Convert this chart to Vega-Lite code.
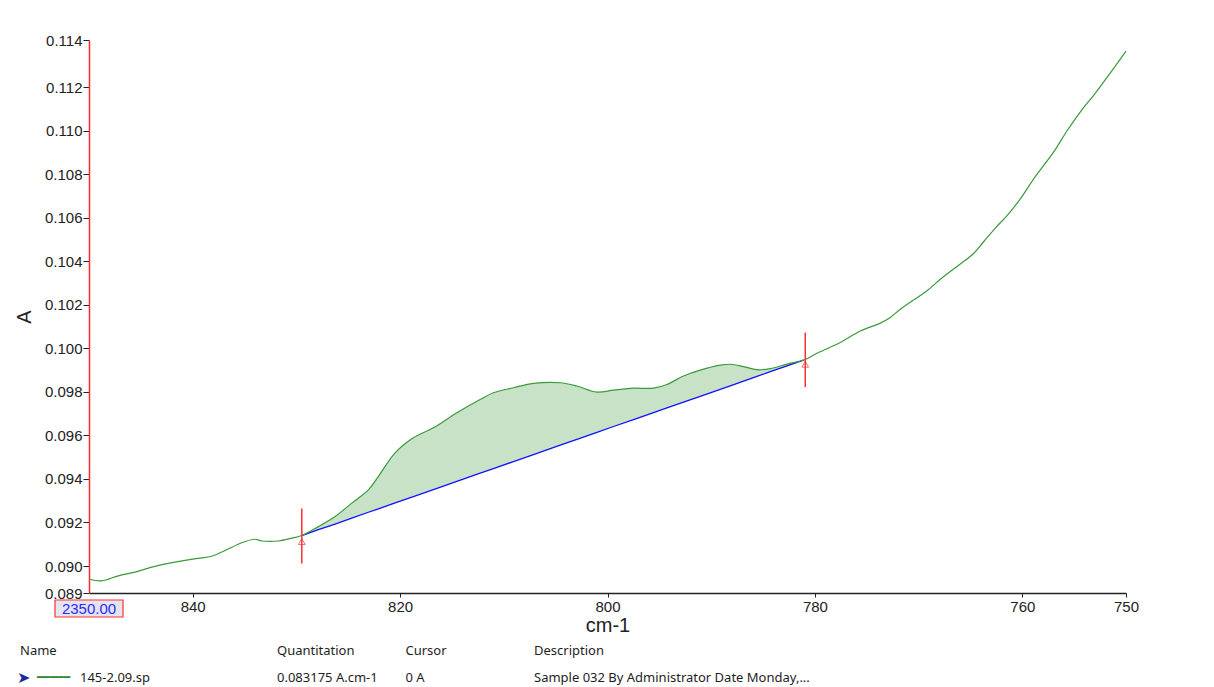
{
  "$schema": "https://vega.github.io/schema/vega-lite/v6.json",
  "width": 1037,
  "height": 553,
  "autosize": {"type": "none"},
  "padding": {"left": 89, "top": 40, "right": 88, "bottom": 94},
  "background": "white",
  "config": {"view": {"stroke": null}, "font": "Liberation Sans"},
  "datasets": {
    "spectrum": [
      {"cm": 850.0, "A": 0.08939},
      {"cm": 848.77, "A": 0.08932},
      {"cm": 847.17, "A": 0.08955},
      {"cm": 845.56, "A": 0.08972},
      {"cm": 843.95, "A": 0.08995},
      {"cm": 842.35, "A": 0.09012},
      {"cm": 840.74, "A": 0.09026},
      {"cm": 839.46, "A": 0.09035},
      {"cm": 838.16, "A": 0.09045},
      {"cm": 836.88, "A": 0.09071},
      {"cm": 835.27, "A": 0.09107},
      {"cm": 833.99, "A": 0.09123},
      {"cm": 833.34, "A": 0.09115},
      {"cm": 831.74, "A": 0.09115},
      {"cm": 830.45, "A": 0.09128},
      {"cm": 829.48, "A": 0.09140, "base": 0.09140},
      {"cm": 827.88, "A": 0.09181, "base": 0.09167},
      {"cm": 826.27, "A": 0.09227, "base": 0.09193},
      {"cm": 824.66, "A": 0.09289, "base": 0.09220},
      {"cm": 823.06, "A": 0.09350, "base": 0.09247},
      {"cm": 822.09, "A": 0.09412, "base": 0.09263},
      {"cm": 820.48, "A": 0.09520, "base": 0.09290},
      {"cm": 818.72, "A": 0.09589, "base": 0.09319},
      {"cm": 816.79, "A": 0.09635, "base": 0.09351},
      {"cm": 814.53, "A": 0.09704, "base": 0.09389},
      {"cm": 812.28, "A": 0.09765, "base": 0.09427},
      {"cm": 811.0, "A": 0.09796, "base": 0.09448},
      {"cm": 809.07, "A": 0.09819, "base": 0.09480},
      {"cm": 807.14, "A": 0.09839, "base": 0.09512},
      {"cm": 804.56, "A": 0.09842, "base": 0.09555},
      {"cm": 802.95, "A": 0.09827, "base": 0.09582},
      {"cm": 801.02, "A": 0.09799, "base": 0.09614},
      {"cm": 799.42, "A": 0.09808, "base": 0.09641},
      {"cm": 797.49, "A": 0.09817, "base": 0.09673},
      {"cm": 795.56, "A": 0.09817, "base": 0.09705},
      {"cm": 794.27, "A": 0.09834, "base": 0.09727},
      {"cm": 792.67, "A": 0.09873, "base": 0.09753},
      {"cm": 791.06, "A": 0.09900, "base": 0.09780},
      {"cm": 789.13, "A": 0.09923, "base": 0.09812},
      {"cm": 788.16, "A": 0.09927, "base": 0.09828},
      {"cm": 786.88, "A": 0.09916, "base": 0.09850},
      {"cm": 785.59, "A": 0.09902, "base": 0.09871},
      {"cm": 784.30, "A": 0.09907, "base": 0.09893},
      {"cm": 782.69, "A": 0.09928, "base": 0.09920},
      {"cm": 781.09, "A": 0.09946, "base": 0.09946},
      {"cm": 779.65, "A": 0.09981},
      {"cm": 777.55, "A": 0.10027},
      {"cm": 775.62, "A": 0.10080},
      {"cm": 773.69, "A": 0.10116},
      {"cm": 772.73, "A": 0.10142},
      {"cm": 771.76, "A": 0.10180},
      {"cm": 769.19, "A": 0.10265},
      {"cm": 767.90, "A": 0.10318},
      {"cm": 765.98, "A": 0.10388},
      {"cm": 764.69, "A": 0.10436},
      {"cm": 763.73, "A": 0.10490},
      {"cm": 762.60, "A": 0.10553},
      {"cm": 761.47, "A": 0.10610},
      {"cm": 760.19, "A": 0.10687},
      {"cm": 758.90, "A": 0.10779},
      {"cm": 756.97, "A": 0.10903},
      {"cm": 755.68, "A": 0.11000},
      {"cm": 754.40, "A": 0.11087},
      {"cm": 753.12, "A": 0.11163},
      {"cm": 751.19, "A": 0.11287},
      {"cm": 750.0, "A": 0.11366}
    ],
    "markers": [
      {"cm": 829.48, "top": 0.09264, "bottom": 0.09012, "tri": 0.09112},
      {"cm": 780.93, "top": 0.10073, "bottom": 0.09822, "tri": 0.09927}
    ],
    "cursor": [
      {"cm": 850, "A": 0.08876, "label": "2350.00"}
    ],
    "tableText": [
      {"row": "header", "col": "Name", "text": "Name"},
      {"row": "header", "col": "Quantitation", "text": "Quantitation"},
      {"row": "header", "col": "Cursor", "text": "Cursor"},
      {"row": "header", "col": "Description", "text": "Description"},
      {"row": "row", "col": "Quantitation", "text": "0.083175 A.cm-1"},
      {"row": "row", "col": "Cursor", "text": "0 A"},
      {"row": "row", "col": "Description", "text": "Sample 032 By Administrator Date Monday,..."}
    ],
    "tableName": [
      {"row": "row", "col": "Name", "text": "145-2.09.sp", "icon": "➤", "line": "━━━━━"}
    ]
  },
  "resolve": {"scale": {"x": "independent", "y": "independent"}},
  "layer": [
    {
      "encoding": {
        "x": {
          "field": "cm", "type": "quantitative",
          "scale": {"domain": [750, 850], "reverse": true, "nice": false, "zero": false},
          "axis": {
            "values": [840, 820, 800, 780, 760, 750], "format": "d",
            "labelFont": "Liberation Sans", "labelFontSize": 15, "labelColor": "#222222",
            "tickColor": "#222222", "tickSize": 4, "labelPadding": 2,
            "domainColor": "#222222", "domainWidth": 1.5, "grid": false,
            "labelOverlap": false, "labelFlush": false,
            "title": "cm-1", "titleFont": "Liberation Sans", "titleFontSize": 20,
            "titleFontWeight": "normal", "titleColor": "#222222", "titlePadding": 1
          }
        },
        "y": {
          "field": "A", "type": "quantitative",
          "scale": {"domain": [0.08876, 0.11417], "nice": false, "zero": false},
          "axis": {
            "values": [0.08876, 0.090, 0.092, 0.094, 0.096, 0.098, 0.100, 0.102, 0.104, 0.106, 0.108, 0.110, 0.112, 0.11417],
            "format": ".3f",
            "labelFont": "Liberation Sans", "labelFontSize": 15, "labelColor": "#222222",
            "tickColor": "#222222", "tickSize": 6, "labelPadding": 1,
            "domainColor": "#ff2a2a", "domainWidth": 1.5, "grid": false,
            "labelOverlap": false, "labelFlush": false,
            "title": "A", "titleFont": "Liberation Sans", "titleFontSize": 20,
            "titleFontWeight": "normal", "titleColor": "#222222", "titlePadding": 10
          }
        }
      },
      "layer": [
        {
          "data": {"name": "spectrum"},
          "transform": [{"filter": "isValid(datum.base)"}],
          "mark": {"type": "area", "color": "#c8e2c8", "opacity": 1, "interpolate": "catmull-rom"},
          "encoding": {"y2": {"field": "base"}}
        },
        {
          "data": {"name": "spectrum"},
          "transform": [{"filter": "isValid(datum.base)"}],
          "mark": {"type": "line", "color": "#1010ff", "strokeWidth": 1.3},
          "encoding": {"y": {"field": "base", "type": "quantitative"}}
        },
        {
          "data": {"name": "spectrum"},
          "mark": {"type": "line", "color": "#3a9a3a", "strokeWidth": 1.2, "interpolate": "catmull-rom"},
          "encoding": {}
        },
        {
          "data": {"name": "markers"},
          "mark": {"type": "rule", "color": "#ff3030", "strokeWidth": 1.5},
          "encoding": {
            "y": {"field": "top", "type": "quantitative"},
            "y2": {"field": "bottom"}
          }
        },
        {
          "data": {"name": "markers"},
          "mark": {"type": "point", "shape": "triangle-up", "filled": false, "color": "#ff3030", "size": 45, "strokeWidth": 1},
          "encoding": {"y": {"field": "tri", "type": "quantitative"}}
        },
        {
          "data": {"name": "cursor"},
          "mark": {"type": "point", "shape": "M-1,0.206H1V0.706H-1Z", "size": 4624, "filled": true, "fill": "#e4e4ee", "stroke": "#ff3030", "strokeWidth": 1.2, "opacity": 1, "fillOpacity": 1, "strokeOpacity": 1},
          "encoding": {}
        },
        {
          "data": {"name": "cursor"},
          "mark": {"type": "text", "color": "#2a2aff", "font": "Liberation Sans", "fontSize": 15, "dy": 16, "baseline": "middle", "align": "center"},
          "encoding": {"text": {"field": "label"}}
        }
      ]
    },
    {
      "encoding": {
        "x": {
          "field": "col", "type": "nominal",
          "scale": {"type": "point", "domain": ["Name", "_gap", "Quantitation", "Cursor", "Description"], "range": [-69, 445], "padding": 0},
          "axis": null
        },
        "y": {
          "field": "row", "type": "nominal",
          "scale": {"type": "point", "domain": ["header", "row"], "range": [611, 638], "padding": 0},
          "axis": null
        }
      },
      "layer": [
        {
          "data": {"name": "tableText"},
          "mark": {"type": "text", "align": "left", "baseline": "middle", "font": "Noto Sans", "fontSize": 13, "color": "#1e1e1e"},
          "encoding": {"text": {"field": "text"}}
        },
        {
          "data": {"name": "tableName"},
          "mark": {"type": "text", "align": "left", "baseline": "middle", "font": "Noto Sans", "fontSize": 13, "color": "#1e1e1e", "dx": 60},
          "encoding": {"text": {"field": "text"}}
        },
        {
          "data": {"name": "tableName"},
          "mark": {"type": "text", "align": "left", "baseline": "middle", "font": "DejaVu Sans", "fontSize": 16, "color": "#1a2a9a", "dx": -3},
          "encoding": {"text": {"field": "icon"}}
        },
        {
          "data": {"name": "tableName"},
          "mark": {"type": "text", "align": "left", "baseline": "middle", "font": "DejaVu Sans", "fontSize": 11, "color": "#2e8b2e", "dx": 17},
          "encoding": {"text": {"field": "line"}}
        }
      ]
    }
  ]
}
